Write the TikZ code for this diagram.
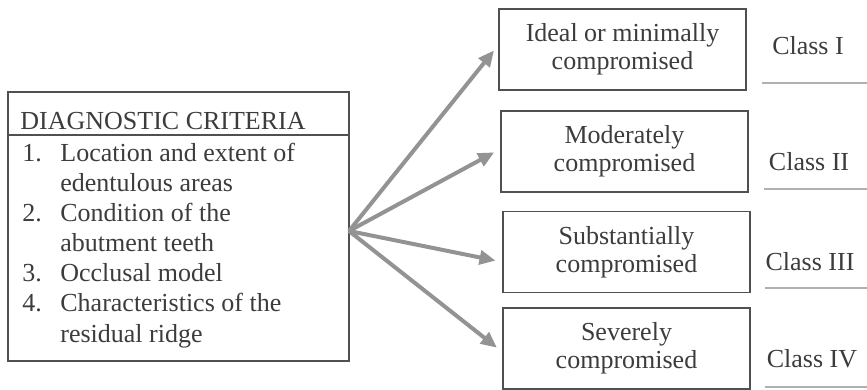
\documentclass[tikz,border=0pt]{standalone}
\usepackage{fontspec}
\setmainfont{Liberation Serif}
\usetikzlibrary{arrows.meta}
\definecolor{inkgray}{HTML}{3C3C3C}
\definecolor{framegray}{HTML}{505050}
\definecolor{arrowgray}{HTML}{939393}
\definecolor{rulegray}{HTML}{B0B0B0}
\tikzset{
  framed/.style={draw=framegray, line width=0.6pt, inner sep=0pt},
  gradebox/.style={framed, minimum width=123.5pt, minimum height=40.5pt,
    align=center, font=\fontsize{13}{14}\selectfont, text=inkgray},
  classlabel/.style={anchor=base, inner sep=0pt, font=\fontsize{13}{14}\selectfont, text=inkgray},
  fanarrow/.style={draw=arrowgray, line width=2pt, -{Triangle[length=8pt,width=7pt]}, shorten >=3.5pt},
  classrule/.style={draw=rulegray, line width=0.7pt},
}
\begin{document}
\begin{tikzpicture}[x=0.5pt,y=-0.5pt]
  \useasboundingbox (0,0) rectangle (867,390);

  % criteria box with header
  \node[framed, minimum width=170.5pt, minimum height=134.5pt] (crit) at (178.5,226.5) {};
  \coordinate (hdr) at (0,135);
  \draw[framegray, line width=0.6pt] (crit.west |- hdr) -- (crit.east |- hdr);
  \node[anchor=base west, inner sep=0pt, text=inkgray, font=\fontsize{13}{15}\selectfont]
    (crit-title) at (20,129) {DIAGNOSTIC CRITERIA};
  \node[anchor=base west, inner sep=0pt, text=inkgray, font=\fontsize{13}{15}\selectfont]
    (crit-list) at (22,162) {%
    \begin{tabular}[t]{@{}p{19pt}@{}l@{}}
      1. & Location and extent of\\
         & edentulous areas\\
      2. & Condition of the\\
         & abutment teeth\\
      3. & Occlusal model\\
      4. & Characteristics of the\\
         & residual ridge
    \end{tabular}};

  % grades
  \node[gradebox] (ideal) at (622.5,49.5) {Ideal or minimally\\compromised};
  \node[gradebox] (moderate) at (624.5,151.5) {Moderately\\compromised};
  \node[gradebox] (substantial) at (626.5,252) {Substantially\\compromised};
  \node[gradebox] (severe) at (626.5,348.5) {Severely\\compromised};

  % classes
  \node[classlabel] (class1) at (808,55) {Class I};
  \node[classlabel] (class2) at (809,170) {Class II};
  \node[classlabel] (class3) at (810,270) {Class III};
  \node[classlabel] (class4) at (812,367) {Class IV};
  \foreach \x/\y in {762/83, 764/189, 765/288, 765/387}
    \draw[classrule] (\x,\y) -- (867,\y);

  % arrows from the criteria
  \coordinate (hub) at (349,231);
  \foreach \g/\dy in {ideal/2.25, moderate/1.25, substantial/-5, severe/-1.75}
    \draw[fanarrow] (hub) -- ([yshift=\dy pt]\g.west);
\end{tikzpicture}
\end{document}
